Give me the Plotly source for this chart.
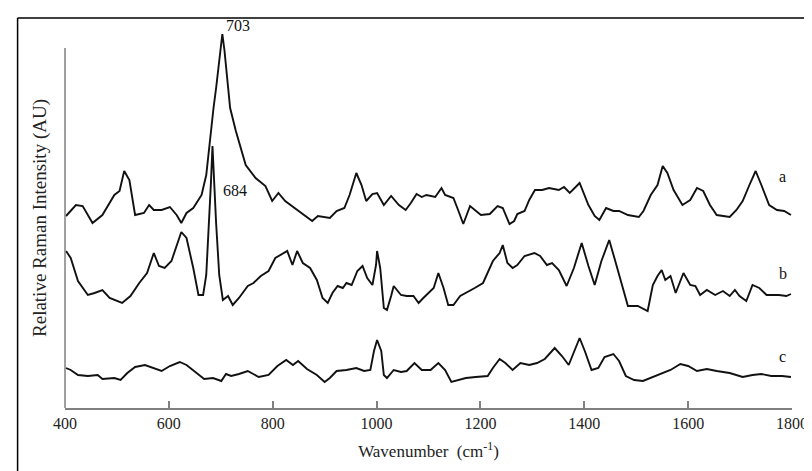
import plotly.graph_objects as go

# Raman spectra (wavenumber, cm-1) and offset relative intensities
wn_a = [402, 421, 434, 453, 472, 495, 505, 514, 524, 535, 552, 562, 571, 586, 602, 615, 624, 634, 647, 663,
        672, 678, 682, 686, 691, 695, 699, 703, 707, 710, 714, 718, 729, 748, 767, 786, 799, 811, 824, 849,
        862, 876, 887, 910, 923, 938, 948, 961, 971, 980, 992, 1001, 1014, 1028, 1043, 1056, 1066, 1077, 1087,
        1096, 1113, 1125, 1132, 1148, 1157, 1167, 1180, 1191, 1201, 1218, 1233, 1243, 1256, 1265, 1271, 1285,
        1294, 1305, 1319, 1332, 1351, 1361, 1372, 1391, 1408, 1420, 1429, 1442, 1456, 1467, 1484, 1505, 1514,
        1528, 1541, 1551, 1560, 1572, 1589, 1604, 1617, 1629, 1642, 1655, 1680, 1693, 1705, 1718, 1730, 1741,
        1756, 1771, 1785, 1798]
int_a = [202, 213, 212, 195, 203, 223, 227, 247, 238, 203, 205, 213, 208, 208, 211, 203, 195, 205, 210, 223,
         243, 273, 295, 310, 330, 350, 368, 384, 368, 350, 330, 310, 287, 253, 240, 232, 217, 225, 217, 207,
         202, 197, 202, 200, 207, 210, 223, 245, 233, 217, 224, 225, 213, 222, 213, 208, 215, 224, 221,
         223, 221, 230, 223, 220, 208, 194, 212, 207, 203, 204, 212, 210, 194, 197, 204, 207,
         218, 228, 228, 230, 228, 231, 225, 235, 213, 202, 198, 210, 207, 207, 203, 201, 207,
         223, 233, 252, 245, 228, 213, 218, 230, 227, 213, 203, 201, 208, 217, 233, 247, 233,
         213, 208, 207, 203]

wn_b = [402, 411, 425, 444, 457, 472, 486, 501, 510, 526, 543, 558, 571, 581, 592, 605, 619, 624, 634, 647,
        657, 666, 672, 678, 681, 684, 687, 691, 697, 704, 714, 723, 735, 752, 763, 777, 792, 805, 828, 838,
        847, 858, 872, 885, 896, 906, 915, 925, 935, 942, 952, 963, 973, 982, 992, 999, 1001, 1007, 1014, 1020,
        1028, 1033, 1047, 1058, 1071, 1081, 1090, 1100, 1110, 1119, 1129, 1138, 1148, 1161, 1172, 1189, 1205,
        1214, 1224, 1237, 1243, 1252, 1262, 1271, 1285, 1304, 1315, 1328, 1338, 1351, 1366, 1380, 1395, 1408,
        1420, 1433, 1448, 1458, 1471, 1484, 1503, 1522, 1532, 1541, 1549, 1556, 1566, 1576, 1591, 1604, 1614,
        1623, 1636, 1652, 1667, 1680, 1690, 1699, 1712, 1724, 1737, 1751, 1762, 1775, 1789, 1798]
int_b = [167, 160, 137, 123, 125, 128, 120, 117, 115, 122, 135, 145, 165, 152, 150, 157, 177, 186, 180, 150,
         123, 123, 143, 197, 235, 272, 235, 195, 143, 118, 122, 113, 120, 132, 135, 142, 147, 160, 167, 153,
         167, 155, 150, 138, 120, 115, 125, 132, 130, 135, 133, 147, 152, 140, 133, 153, 167, 150, 110, 108,
         122, 132, 123, 122, 122, 115, 120, 125, 130, 145, 130, 113, 113, 122, 125, 130, 135,
         145, 157, 165, 173, 155, 150, 153, 162, 165, 162, 153, 155, 148, 132, 150, 175, 152,
         133, 157, 178, 160, 137, 112, 112, 107, 133, 142, 148, 138, 142, 125, 145, 133, 132,
         123, 128, 123, 127, 122, 128, 122, 117, 133, 130, 123, 123, 123, 122, 124]

wn_c = [402, 411, 425, 444, 463, 472, 495, 507, 520, 535, 554, 571, 586, 602, 621, 634, 649, 668, 685, 701,
        710, 720, 735, 752, 773, 792, 809, 826, 839, 849, 866, 885, 900, 910, 923, 942, 961, 976, 988, 995,
        1001, 1009, 1014, 1020, 1033, 1047, 1058, 1073, 1087, 1104, 1119, 1132, 1144, 1157, 1172, 1191, 1205,
        1214, 1224, 1237, 1248, 1262, 1277, 1294, 1309, 1324, 1343, 1357, 1370, 1382, 1391, 1401, 1414, 1427,
        1439, 1456, 1467, 1480, 1496, 1513, 1528, 1547, 1566, 1585, 1600, 1617, 1636, 1655, 1680, 1705, 1724,
        1741, 1760, 1781, 1798]
int_c = [50, 48, 43, 42, 43, 39, 40, 38, 45, 51, 53, 50, 47, 52, 56, 53, 47, 39, 40, 37,
         44, 42, 44, 47, 41, 43, 52, 58, 53, 57, 49, 43, 36, 40, 47, 48, 50, 47, 48, 67,
         78, 67, 43, 40, 48, 46, 47, 55, 48, 48, 55, 48, 36, 38, 40, 41, 42,
         42, 50, 59, 55, 48, 55, 53, 55, 59, 70, 62, 53, 68, 80, 67, 48, 50,
         61, 64, 57, 42, 38, 37, 40, 44, 48, 54, 52, 47, 49, 47, 45, 41, 43,
         44, 42, 42, 41]

x_ticks = [400, 600, 800, 1000, 1200, 1400, 1600, 1800]
y_axis_span = [10, 370]          # extent of the drawn y-axis line (data units)
# (text, x, y, extra vertical pixel shift)
labels = [("703", 707, 388, 5), ("684", 700, 228, 0),
          ("a", 1771, 242, 0), ("b", 1771, 145, 0), ("c", 1771, 62, 0)]

FONT = "Liberation Serif"

fig = go.Figure()
for wx, iy in [(wn_a, int_a), (wn_b, int_b), (wn_c, int_c)]:
    fig.add_trace(go.Scatter(x=wx, y=iy, mode="lines",
                             line=dict(color="#111111", width=1.9), showlegend=False,
                             hoverinfo="skip"))

annotations = []
for txt, xx, yy, ys in labels:
    annotations.append(dict(x=xx, y=yy, xref="x", yref="y", text=txt, showarrow=False,
                            xanchor="left", yanchor="middle", yshift=ys,
                            font=dict(family=FONT, size=16, color="#111111")))

L, R, T, B = 57, 19, 20, 71
W, H = 812, 471
pw, ph = W - L - R, H - T - B
def px(xp):
    return (xp - L) / pw
def py(yp):
    return (H - B - yp) / ph

shapes = [
    # outer frame
    dict(type="line", xref="paper", yref="paper", x0=px(9), x1=px(812), y0=py(10), y1=py(10),
         line=dict(color="#000000", width=1.5)),
    dict(type="line", xref="paper", yref="paper", x0=px(9), x1=px(9), y0=py(10), y1=py(472),
         line=dict(color="#000000", width=1.5)),
    # y axis line (shorter than the plotting area)
    dict(type="line", xref="paper", yref="y", x0=0, x1=0, y0=y_axis_span[0], y1=y_axis_span[1],
         line=dict(color="#808080", width=1.5)),
]

fig.update_layout(
    width=W, height=H,
    margin=dict(l=L, r=R, t=T, b=B),
    paper_bgcolor="white", plot_bgcolor="white",
    font=dict(family=FONT, size=16, color="#222222"),
    annotations=annotations,
    shapes=shapes,
)
fig.update_xaxes(range=[400, 1800], tickvals=x_ticks, ticktext=[str(t) for t in x_ticks],
                 showline=True, linecolor="#808080", linewidth=1.5,
                 ticks="inside", ticklen=7, tickcolor="#808080", tickwidth=1.5,
                 showgrid=False, zeroline=False,
                 tickfont=dict(family=FONT, size=16, color="#222222"),
                 title=dict(text="Wavenumber  (cm<sup>-1</sup>)", standoff=14,
                            font=dict(family=FONT, size=17, color="#222222")))
fig.update_yaxes(range=[10, 390], showline=False,
                 showticklabels=False, ticks="", showgrid=False, zeroline=False,
                 title=dict(text="Relative Raman Intensity (AU)", standoff=12,
                            font=dict(family=FONT, size=19, color="#222222")))

fig.write_html("out.html")
